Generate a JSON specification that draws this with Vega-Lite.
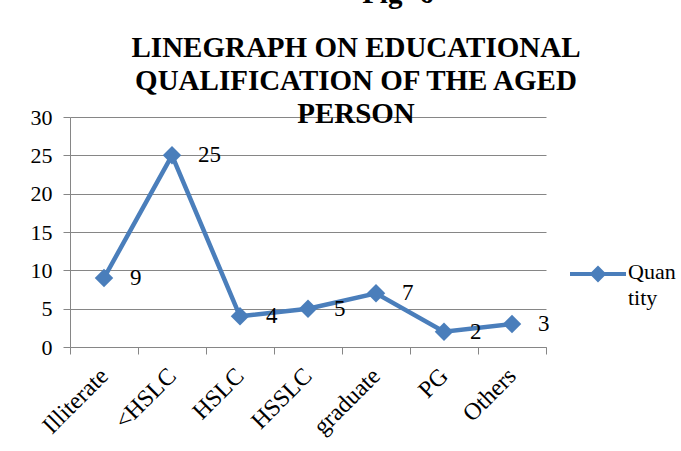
{
  "$schema": "https://vega.github.io/schema/vega-lite/v6.json",
  "autosize": "none",
  "width": 476,
  "height": 230,
  "padding": {"left": 70, "top": 117, "right": 135, "bottom": 104},
  "background": "white",
  "title": {
    "text": "\u2800\u2800\u2800\u2800Fig- 6",
    "subtitle": ["LINEGRAPH ON EDUCATIONAL", "QUALIFICATION OF THE AGED", "PERSON"],
    "anchor": "middle",
    "dx": 48,
    "offset": -23,
    "font": "Liberation Serif",
    "fontSize": 29,
    "fontWeight": "bold",
    "color": "black",
    "subtitleFont": "Liberation Serif",
    "subtitleFontSize": 29,
    "subtitleFontWeight": "bold",
    "subtitleColor": "black",
    "subtitleLineHeight": 33,
    "subtitlePadding": 25
  },
  "data": {
    "values": [
      {"category": "Illiterate", "value": 9, "series": "Quantity"},
      {"category": "<HSLC", "value": 25, "series": "Quantity"},
      {"category": "HSLC", "value": 4, "series": "Quantity"},
      {"category": "HSSLC", "value": 5, "series": "Quantity"},
      {"category": "graduate", "value": 7, "series": "Quantity"},
      {"category": "PG", "value": 2, "series": "Quantity"},
      {"category": "Others", "value": 3, "series": "Quantity"}
    ]
  },
  "encoding": {
    "x": {
      "field": "category",
      "type": "nominal",
      "sort": null,
      "scale": {"type": "band", "paddingInner": 0, "paddingOuter": 0},
      "axis": {
        "title": null,
        "labelAngle": -45,
        "labelAlign": "right",
        "labelBaseline": "middle",
        "labelPadding": 18,
        "labelFont": "Liberation Serif",
        "labelFontSize": 24,
        "labelColor": "black",
        "domainColor": "#868686",
        "tickColor": "#868686",
        "tickSize": 7,
        "tickBand": "extent",
        "grid": false
      }
    },
    "y": {
      "field": "value",
      "type": "quantitative",
      "scale": {"domain": [0, 30], "nice": false},
      "axis": {
        "title": null,
        "values": [0, 5, 10, 15, 20, 25, 30],
        "grid": true,
        "gridColor": "#868686",
        "domainColor": "#868686",
        "tickColor": "#868686",
        "tickSize": 7,
        "labelPadding": 11,
        "labelFont": "Liberation Serif",
        "labelFontSize": 22,
        "labelColor": "black"
      }
    }
  },
  "layer": [
    {
      "mark": {"type": "line", "strokeWidth": 4.5},
      "encoding": {
        "color": {
          "field": "series",
          "type": "nominal",
          "scale": {"range": ["#4A7EBB"]},
          "legend": {
            "title": null,
            "orient": "none",
            "legendX": 498,
            "legendY": 132,
            "padding": 0,
            "symbolType": "M-1,-0.18L1,-0.18M-0.2,-0.18L0,-0.38L0.2,-0.18L0,0.02Z",
            "symbolSize": 3136,
            "symbolStrokeWidth": 4,
            "symbolFillColor": "#4A7EBB",
            "symbolStrokeColor": "#4A7EBB",
            "labelOffset": 0,
            "labelFont": "Liberation Serif",
            "labelFontSize": 22,
            "labelColor": "black",
            "labelBaseline": "alphabetic",
            "labelExpr": "['Quan', 'tity']",
            "labelLimit": 200,
            "encode": {"labels": {"update": {"lineHeight": {"value": 26}}}}
          }
        }
      }
    },
    {
      "mark": {"type": "point", "shape": "diamond", "filled": true, "size": 340, "opacity": 1, "color": "#4A7EBB"}
    },
    {
      "mark": {"type": "text", "align": "left", "baseline": "middle", "dx": 26, "font": "Liberation Serif", "fontSize": 23, "color": "black"},
      "encoding": {"text": {"field": "value", "type": "quantitative"}}
    }
  ],
  "config": {"view": {"stroke": null}}
}
